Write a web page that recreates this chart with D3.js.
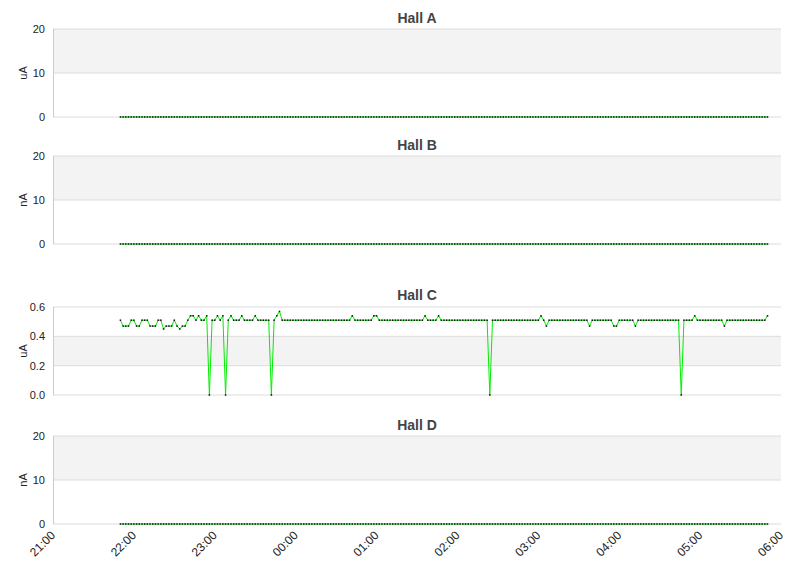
<!DOCTYPE html>
<html><head><meta charset="utf-8">
<script src="https://cdn.jsdelivr.net/npm/d3@7"></script>
<style>body{margin:0;background:#fff;font-family:"Liberation Sans",Arial,sans-serif}</style>
</head><body><div id="chart"></div>
<script>
const halls = ['Hall A', 'Hall B', 'Hall C', 'Hall D'];
const units = ['uA', 'nA', 'uA', 'nA'];
const yMax = [20, 20, 0.6, 20];
const yTicks = [[0, 10, 20], [0, 10, 20], [0, 0.2, 0.4, 0.6], [0, 10, 20]];
const xTickLabels = ['21:00', '22:00', '23:00', '00:00', '01:00', '02:00', '03:00', '04:00', '05:00', '06:00'];
const sampleStart = '21:50';
const sampleStepMin = 2;

const zeroSeries = [
  0,0,0,0,0,0,0,0,0,0,0,0,0,0,0,0,0,0,0,0,
  0,0,0,0,0,0,0,0,0,0,0,0,0,0,0,0,0,0,0,0,
  0,0,0,0,0,0,0,0,0,0,0,0,0,0,0,0,0,0,0,0,
  0,0,0,0,0,0,0,0,0,0,0,0,0,0,0,0,0,0,0,0,
  0,0,0,0,0,0,0,0,0,0,0,0,0,0,0,0,0,0,0,0,
  0,0,0,0,0,0,0,0,0,0,0,0,0,0,0,0,0,0,0,0,
  0,0,0,0,0,0,0,0,0,0,0,0,0,0,0,0,0,0,0,0,
  0,0,0,0,0,0,0,0,0,0,0,0,0,0,0,0,0,0,0,0,
  0,0,0,0,0,0,0,0,0,0,0,0,0,0,0,0,0,0,0,0,
  0,0,0,0,0,0,0,0,0,0,0,0,0,0,0,0,0,0,0,0,
  0,0,0,0,0,0,0,0,0,0,0,0,0,0,0,0,0,0,0,0,
  0,0,0,0,0,0,0,0,0,0,0,0,0,0,0,0,0,0,0,0,
  0
];
const hallC = [
  0.51,0.47,0.47,0.47,0.51,0.51,0.47,0.47,0.51,0.51,
  0.51,0.47,0.47,0.47,0.51,0.51,0.45,0.47,0.47,0.47,
  0.51,0.47,0.45,0.47,0.47,0.51,0.54,0.54,0.51,0.54,
  0.51,0.51,0.54,0,0.51,0.51,0.54,0.51,0.54,0,
  0.51,0.54,0.51,0.51,0.51,0.54,0.51,0.51,0.51,0.51,
  0.54,0.51,0.51,0.51,0.51,0.51,0,0.51,0.54,0.57,
  0.51,0.51,0.51,0.51,0.51,0.51,0.51,0.51,0.51,0.51,
  0.51,0.51,0.51,0.51,0.51,0.51,0.51,0.51,0.51,0.51,
  0.51,0.51,0.51,0.51,0.51,0.51,0.54,0.51,0.51,0.51,
  0.51,0.51,0.51,0.51,0.54,0.54,0.51,0.51,0.51,0.51,
  0.51,0.51,0.51,0.51,0.51,0.51,0.51,0.51,0.51,0.51,
  0.51,0.51,0.51,0.54,0.51,0.51,0.51,0.51,0.54,0.51,
  0.51,0.51,0.51,0.51,0.51,0.51,0.51,0.51,0.51,0.51,
  0.51,0.51,0.51,0.51,0.51,0.51,0.51,0,0.51,0.51,
  0.51,0.51,0.51,0.51,0.51,0.51,0.51,0.51,0.51,0.51,
  0.51,0.51,0.51,0.51,0.51,0.51,0.54,0.51,0.47,0.51,
  0.51,0.51,0.51,0.51,0.51,0.51,0.51,0.51,0.51,0.51,
  0.51,0.51,0.51,0.51,0.47,0.51,0.51,0.51,0.51,0.51,
  0.51,0.51,0.51,0.47,0.47,0.51,0.51,0.51,0.51,0.51,
  0.51,0.47,0.51,0.51,0.51,0.51,0.51,0.51,0.51,0.51,
  0.51,0.51,0.51,0.51,0.51,0.51,0.51,0.51,0,0.51,
  0.51,0.51,0.51,0.54,0.51,0.51,0.51,0.51,0.51,0.51,
  0.51,0.51,0.51,0.51,0.47,0.51,0.51,0.51,0.51,0.51,
  0.51,0.51,0.51,0.51,0.51,0.51,0.51,0.51,0.51,0.51,
  0.54
];
const series = [zeroSeries, zeroSeries, hallC, zeroSeries];

const W = 811, H = 578;
const left = 53, right = 781;
const panels = [
  { title: 18, top: 29, bottom: 117 },
  { title: 145, top: 156, bottom: 244 },
  { title: 295, top: 307, bottom: 395 },
  { title: 425, top: 436, bottom: 524 },
];

const day0 = new Date(2020, 0, 1, 21, 0);
const parse = (s, nextDay) => {
  const [h, m] = s.split(':').map(Number);
  return new Date(2020, 0, nextDay ? 2 : 1, h, m);
};
const tickDates = xTickLabels.map((s) => parse(s, s < '21:00'));
const start = parse(sampleStart, false);
const x = d3.scaleTime().domain([day0, tickDates[tickDates.length - 1]]).range([left, right]);

const svg = d3.select('#chart').append('svg').attr('width', W).attr('height', H);

panels.forEach((p, i) => {
  const y = d3.scaleLinear().domain([0, yMax[i]]).range([p.bottom, p.top]);
  const g = svg.append('g');
  const t = yTicks[i];
  for (let k = 0; k < t.length - 1; k++) {
    g.append('rect').attr('x', left).attr('width', right - left)
      .attr('y', y(t[k + 1])).attr('height', y(t[k]) - y(t[k + 1]))
      .attr('fill', k % 2 === 1 ? '#f3f3f3' : '#fff');
  }
  t.forEach((v) => {
    g.append('line').attr('x1', left).attr('x2', right).attr('y1', y(v)).attr('y2', y(v))
      .attr('stroke', '#dcdcdc');
    g.append('text').attr('x', left - 8).attr('y', y(v)).attr('dy', '0.35em')
      .attr('text-anchor', 'end').attr('font-size', 11).attr('fill', '#222')
      .text(yMax[i] < 1 ? v.toFixed(1) : v);
  });
  g.append('line').attr('x1', left + 0.5).attr('x2', left + 0.5).attr('y1', p.top).attr('y2', p.bottom)
    .attr('stroke', '#ccc');
  g.append('text').attr('x', (left + right) / 2).attr('y', p.title).attr('dy', '0.35em')
    .attr('text-anchor', 'middle').attr('font-size', 14).attr('font-weight', 'bold').attr('fill', '#444')
    .text(halls[i]);
  g.append('text').attr('transform', `translate(27,${(p.top + p.bottom) / 2}) rotate(-90)`)
    .attr('text-anchor', 'middle').attr('font-size', 11).attr('fill', '#222').text(units[i]);

  const pts = series[i].map((v, j) => [x(new Date(+start + j * sampleStepMin * 60000)), y(v)]);
  g.append('path').attr('d', d3.line()(pts)).attr('fill', 'none').attr('stroke', '#00ee00').attr('stroke-width', 1);
  g.selectAll('.pt').data(pts).join('rect').attr('class', 'pt')
    .attr('x', (d) => d[0] - 0.75).attr('y', (d) => d[1] - 0.75).attr('width', 1.5).attr('height', 1.5)
    .attr('fill', '#111');
});

xTickLabels.forEach((s, k) => {
  svg.append('text').attr('transform', `translate(${x(tickDates[k]) + 3},${536}) rotate(-45)`)
    .attr('text-anchor', 'end').attr('font-size', 12).attr('fill', '#222').text(s);
});
</script></body></html>
